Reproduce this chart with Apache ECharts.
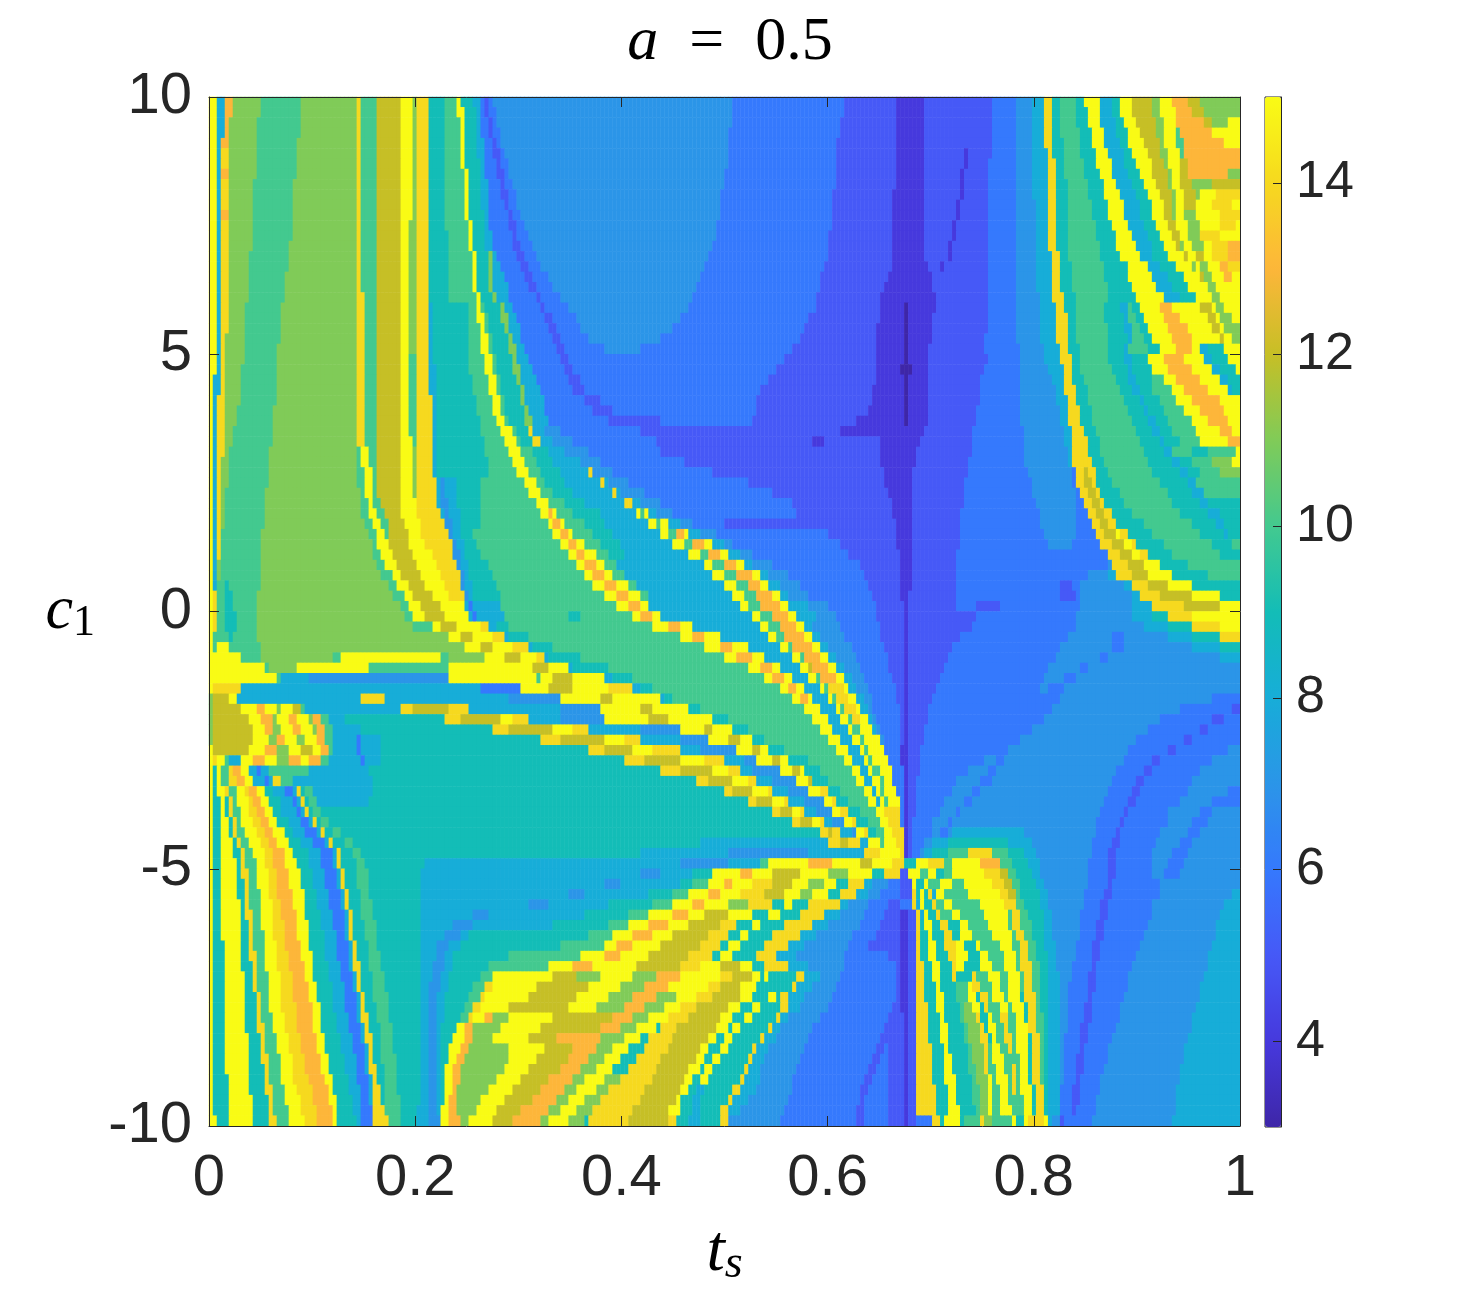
<!DOCTYPE html>
<html>
<head>
<meta charset="utf-8">
<title>a = 0.5</title>
<script src="https://cdn.jsdelivr.net/npm/echarts@6/dist/echarts.min.js"></script>
<style>
  html, body { margin: 0; padding: 0; background: #fff; }
  #main { width: 1461px; height: 1293px; }
</style>
</head>
<body>
<div id="main"></div>
<script>
// levels, top row (c1 = 10) first, left to right in t_s.
// each token: one hex digit for the level, then where that level stops along t_s (0-1031)
const levelRows = [
'f7 814 d22 b50 a93 b146 e153 a166 c193 f203 b206 e218 9234 a248 f253 9265 8270 6275 5279 6285 7523 6636 5688 4715 5783 6806 7825 8835 e842 9850 a866 9877 f890 8902 9910 f923 c942 b951 f965 d978 c990 b1031',
'f7 814 d22 b50 a92 b146 e153 a166 c193 f203 b206 e218 9234 a249 f254 9266 8271 6276 5281 6287 7523 6634 5688 4715 5783 6806 7825 8835 e843 9851 a867 9879 f892 8904 9912 f925 c944 b953 f966 d985 c995 b1031',
'f7 814 d21 b49 a91 b146 e153 a166 c193 f203 b206 e218 9235 a250 f254 9267 8272 6278 5283 6289 7522 6632 5687 4715 5783 6806 7825 8836 e843 9852 a868 9881 f893 8906 9915 f929 c946 b954 f967 d995 c1005 b1020 f1031',
'f7 814 d21 b49 a90 b146 e153 a166 c193 f203 b206 e218 9235 a251 f255 9267 8273 6280 5285 6291 7521 6630 5687 4715 5782 6806 7825 8836 e844 9853 a870 9883 f895 8908 9918 f932 c948 b955 f968 a972 d1005 f1031',
'f7 813 d21 b48 a89 b146 e153 a166 c193 f203 b206 e218 9235 a252 f256 9268 8274 6282 5287 6293 7520 6629 5686 4715 5782 6806 7825 8837 e844 9854 a871 9885 f897 8911 9921 f935 c950 b956 f969 a974 d1015 f1031',
'f7 813 e21 b47 a88 b146 e153 a166 c193 f203 b206 e218 9236 a252 f256 9269 8275 6285 5290 6295 7519 6628 5686 4715 5756 4760 5782 6806 7825 8838 e845 9855 a873 9887 f900 8914 9925 f939 c953 b958 f970 a976 d1031',
'f7 813 e20 b47 a87 b146 e153 a166 c193 f203 b206 e218 9236 a253 f257 9270 8276 6287 5292 6298 7518 6627 5686 4715 5755 4759 5781 6806 7825 8838 e846 9856 a875 9889 f902 8917 9928 f942 c955 b960 f971 c978 d1031',
'f7 813 d20 b46 a86 b146 e153 a166 c193 f203 b206 e218 9236 a254 f258 9271 8277 6289 5294 6301 7516 6627 5686 4715 5753 4757 5781 6806 7825 8839 e846 9857 a877 9892 f905 8920 9932 f945 c958 b962 f972 c980 d1018 b1031',
'f7 812 e20 b45 a85 b146 e153 a166 c193 f202 b206 e218 9236 a255 f259 9272 8278 6291 5296 6304 7514 6626 5686 4714 5751 4755 5781 6806 7825 8839 e847 9858 a879 9895 f909 8924 9936 f949 c960 b964 f973 c985 b1005 c1031',
'f7 812 e20 b45 a85 b146 e153 a166 c193 f202 b206 e219 9236 a255 f259 9272 8278 6293 5298 6307 7513 6625 5685 4714 5750 4754 5780 6806 7825 8840 e847 9858 a881 9897 f912 8927 9939 f952 c962 b966 f974 c987 b992 f1008 e1031',
'f7 812 e20 b44 a84 b146 e153 a166 c193 f202 b206 e219 9236 a256 f260 9273 8279 6296 5301 6309 7512 6624 5685 4714 5748 4752 5780 6806 7826 8840 e848 9859 a883 9899 f915 8930 9942 f955 c964 b967 f975 c988 f1005 e1025 f1031',
'f7 812 d20 b44 a83 b146 e153 a166 c192 f202 b206 e219 9236 a257 f261 9274 8280 6299 5304 6312 7510 6623 5685 4714 5747 4751 5780 6806 7826 8840 e848 9859 a885 9900 f917 8932 9944 f957 c965 b968 f976 b988 f1010 e1031',
'f6 812 e19 b43 a82 b146 e153 a166 c192 f201 b206 e219 9237 a258 f262 9275 8281 6301 5307 6316 7508 6622 5685 4714 5745 4749 5780 6806 7826 8841 e849 9860 a887 9902 f919 8934 9946 f959 c966 b969 f978 b990 f1012 e1028 f1031',
'f6 811 e19 b42 a82 b146 e153 a166 c192 f201 b206 e219 9238 a259 f263 9276 8283 6303 5309 6320 7506 6621 5684 4714 5743 4747 5780 6806 7826 8841 e849 9860 a889 9906 f923 8938 9951 f964 c970 b972 f981 b992 e1010 f1031',
'f6 811 e19 b42 a81 b146 e153 a166 c192 f201 b206 e219 9238 a260 f264 9277 8285 6305 5311 6324 7504 6620 5684 4714 5741 4745 5780 6806 7827 8841 e849 9860 a891 9909 f927 8942 9956 f969 c973 b976 f984 b994 f1004 e1020 d1031',
'f6 811 e19 b41 a80 b146 e153 a166 c192 f201 b206 e219 9239 a262 f266 9278 b282 8289 6308 5314 6328 7501 6618 5683 4716 5738 4742 5780 6806 7827 8842 e850 9861 a893 9913 f933 8945 9961 f976 c981 f987 c996 f1004 e1018 d1031',
'f6 811 e19 b40 a79 b147 e153 a166 c192 f200 b206 e220 9239 a263 f267 9279 b283 8292 6312 5318 6333 7497 6615 5682 4719 5733 4737 5780 6806 7827 8843 e851 9862 a895 9918 f938 8950 9968 f984 b987 f992 b998 f1010 d1020 e1031',
'f6 811 e18 b40 a77 b147 e153 a166 c192 f200 b206 e220 9240 a264 f268 9280 b284 8296 6317 5323 6339 7493 6612 5679 4722 5780 6806 7828 8843 e852 9864 a897 9921 f943 8958 9974 f992 c994 f997 b1002 f1016 d1024 f1031',
'f6 810 e18 b39 a76 b147 e153 a166 c191 f200 b206 e220 9241 a265 f269 9281 b285 8299 6321 5327 6345 7489 6610 5677 4725 5780 6806 7829 8844 e853 9865 a898 9925 f947 8965 9981 f998 c1001 b1006 f1031',
'f6 810 e18 b38 a74 b147 e154 a166 c191 f200 b206 e220 9241 a266 f271 9283 b288 8300 6326 5332 6351 7482 6608 5673 4726 5779 6806 7830 8845 e855 9866 a899 9929 f955 8972 9986 f1004 b1012 f1031',
'f6 810 e18 b37 a73 b147 e154 a166 c191 f200 b206 e220 8224 9258 a268 f273 a277 9290 b295 8302 6330 5336 6358 7478 6606 5670 4696 3699 4726 5778 6806 7831 8846 e857 9866 a895 9912 8918 a925 9933 f950 d962 f992 c1004 f1009 b1016 f1031',
'f6 810 e18 b37 a72 b147 e154 a166 c191 f200 b206 e220 8224 9258 a269 f275 a279 9293 b298 8306 6334 5342 6366 7470 6601 5670 4696 3699 4725 5778 6806 7831 8847 e858 9867 a897 9914 8920 a928 9937 f954 d970 f998 c1006 f1012 b1022 f1031',
'f6 810 e18 b36 a71 b147 e154 a166 c191 f200 b206 e220 8224 9258 a270 f277 a281 9296 b301 8310 6338 5346 6373 7462 6596 5669 4696 3699 4723 5778 6807 7832 8848 e859 9868 a899 9916 8922 a931 9941 f958 d978 f1004 c1010 f1017 b1031',
'f6 810 e17 b35 a70 b148 e154 a166 c191 f200 b206 e221 8225 9258 a272 f279 a283 9299 b304 8313 6342 5350 6381 7452 6591 5669 4696 3699 4722 5777 6808 7833 8849 e860 9869 a900 9918 8924 a934 9945 f962 d985 f1010 c1014 f1023 b1031',
'f6 810 e17 b35 a69 b148 e155 a166 c191 f200 b206 e221 8225 9258 a273 f280 a285 9301 b306 8317 6346 5354 6395 7432 6585 5669 4696 3699 4721 5777 6810 7834 8850 e861 9870 a900 9915 8921 a938 9950 f968 d985 f992 8998 91015 f1031',
'f6 810 e17 b34 a69 b148 e155 a166 c191 f199 a206 e221 8225 9258 a275 f282 a287 9303 b308 8320 6350 5360 6577 5668 4694 3700 4720 5778 6811 7835 8851 e862 9871 a901 9917 8923 9940 f954 d975 f997 81003 91020 f1031',
'f6 810 e17 b33 a68 b148 e155 a166 c191 f199 a206 e221 8226 9260 a277 f284 a289 9305 b310 8324 6355 5365 6568 5668 4692 3702 4720 5776 6811 7838 8854 e864 9873 a903 9919 8925 9943 f960 d982 f1004 81010 91027 f1031',
'f5 810 e16 b32 a67 b148 e155 a166 c191 f199 a206 e221 8226 9262 a279 f287 a291 9307 b312 8328 6360 5370 6560 5667 4694 3700 4720 5773 6811 7842 8856 e865 9875 a906 9921 8928 9945 a955 f967 d992 f1012 81020 91031',
'f5 810 e16 b31 a66 b148 e155 a166 c191 f200 a206 e221 8226 9264 a281 f289 a293 9310 b315 8332 6365 5376 6553 5664 4696 3699 4720 5772 6812 7846 8857 e867 9878 a910 9925 8932 9945 a962 f976 d1000 f1019 81024 91031',
'f5 89 e16 b30 a66 b149 e156 a167 c191 f200 a206 e222 8226 9266 a283 f291 a295 9312 b317 8335 6374 5390 6549 5662 4696 3699 4721 5770 6812 7848 8859 e869 9880 a915 9930 8935 9950 a968 f984 d1010 f1031',
'f5 89 e16 b29 a65 b149 e156 a167 c191 f200 a206 e222 8226 9268 a285 f293 a297 9314 b320 8337 6385 5405 6547 5660 4696 3699 4721 5768 6813 7850 8860 e871 9882 a920 9935 8941 9956 a975 f992 d1015 f1031',
'f5 89 e15 b27 a64 b149 e156 a167 c191 f200 a206 e222 8227 9270 a287 f295 a299 9317 b322 8339 6400 5450 6545 5648 4696 3699 4718 5766 6813 7851 8861 e873 9885 a925 9940 8946 9960 a982 f1000 d1020 f1031',
'f5 89 e15 b25 a63 b149 e156 a167 c191 f201 a206 e222 8227 9272 a293 f302 a306 9320 e324 8335 7352 6430 5632 4715 5765 6814 7854 8862 e875 9887 a928 9945 8950 9965 a988 f1010 d1025 f1031',
'f5 89 e14 b23 a62 b149 e157 a168 c191 f202 a206 e223 8228 9274 a296 f306 a310 9325 e330 8345 7365 6447 5605 4615 5670 4710 5764 6815 7857 8862 e878 9890 a932 9950 8955 9970 a992 f1018 d1031',
'f5 89 e14 b21 a61 b147 a152 f158 a168 c191 f203 b206 e223 8228 9276 a300 f311 a322 9338 8357 7378 6450 5672 4708 5762 6816 7859 8863 e881 9892 a935 9955 8962 a985 91000 a1027 f1031',
'f5 89 e13 b20 a60 b147 a153 f160 a168 c192 f204 b206 e224 8228 9278 a304 f316 a326 9344 8370 7391 6475 5673 4706 5760 6817 7861 8864 e883 9895 a940 9962 8970 9985 a1005 b1025 f1031',
'f5 88 e13 b19 a59 b148 a155 f162 a168 c192 f204 b207 e225 8229 9280 a309 f320 a331 9350 8378 e382 7405 6505 5675 4705 5758 6819 7864 6868 e874 c880 e886 9900 a945 9970 8978 9990 a1010 b1031',
'f4 88 e12 b18 a58 b149 a155 f163 a168 c192 f205 b207 e226 8230 7234 8246 9272 a314 f326 a336 9356 8391 e395 8401 7420 6540 5676 4704 5757 6822 7865 6868 e876 c882 e889 9905 a952 9978 8987 a1031',
'f4 88 e12 b17 a57 b150 a155 f163 a169 c192 f205 b208 e227 8231 7236 8248 9272 a320 f332 a344 9362 8402 e408 8412 7435 6565 5679 4704 5755 6825 7866 6872 e880 c886 e893 9910 a958 9985 8995 a1031',
'f4 88 e12 b16 a56 b152 a158 f165 a172 c193 f207 b208 e229 8232 7238 8249 9272 a326 f340 a356 9375 8415 e422 8430 7450 6582 5682 4704 5754 6828 7866 6875 e884 c891 e897 9917 a965 9992 81000 91031',
'f4 88 e11 b15 a55 b153 a160 f168 a175 c193 f208 b209 e232 8234 7240 8250 9272 a332 f338 d343 f348 a365 9390 8428 f432 a436 f440 8448 7464 6586 5685 4704 5753 6830 7866 6878 e886 c896 e902 9925 a972 91000 81010 91031',
'f4 88 e11 b14 a54 b155 a163 f171 a178 c195 f210 e234 8237 7242 8251 9270 a338 f344 d350 f356 a375 9397 8440 f447 a453 f460 8470 7484 6515 5688 4704 5752 6833 7866 6883 e890 c900 e909 9935 a982 91008 81015 91031',
'f4 87 e10 b13 a53 b158 a166 f174 a180 c198 f212 e238 7244 8252 9265 a344 f351 d358 f365 a385 9405 8452 f460 a468 d474 f480 8490 7507 6620 5689 4703 5751 6836 7866 6888 e896 c906 f912 e918 9945 a992 91015 81020 91031',
'f4 87 e10 b12 a53 b162 a169 f179 c200 f217 e242 7247 8254 9268 a351 f359 d368 f376 a392 9412 8465 f475 a485 d497 f505 8515 7525 6632 5689 4703 5750 6840 7862 6893 e902 c915 f922 e928 9955 a1002 91025 a1031',
'f4 87 e10 b12 a52 b165 a172 f184 c204 f222 e245 7250 8256 9270 a358 f368 d377 f386 a400 9415 8480 f490 a500 d512 f520 8530 7545 6641 5690 4703 5749 6898 e910 c925 f932 e938 9965 a1012 91031',
'f4 86 e9 b11 a51 b169 a177 f189 c208 f227 e248 7252 8258 9278 a366 f376 d386 f396 a408 8495 f505 a515 d527 f535 8545 7565 6650 5691 4702 5748 6900 7904 e920 c935 f950 9980 a1031',
'f4 86 e9 b10 a50 b172 a182 f193 c212 f232 e250 7254 8260 9285 a375 f385 d395 f405 a416 8505 f516 a528 d542 f550 8560 7580 6656 5691 4702 5748 6880 7900 8906 e922 c940 f962 91000 a1031',
'f4 86 e9 a15 920 a50 b178 a188 f198 c217 f236 e253 7257 8262 9288 a385 f396 d407 f418 a428 8515 f526 a538 d552 f560 8570 7590 6661 5692 4702 5748 6850 5864 6872 7915 8922 e938 c960 f985 91031',
'f4 e8 a15 922 a49 b185 a195 f203 c222 f240 e255 7259 8265 9290 a395 f407 d418 f430 a440 8525 f536 a548 d562 f570 8580 7600 6665 5692 4701 5747 6850 5866 6870 7925 8932 e950 c985 f1010 91031',
'f4 e8 a16 925 a49 b193 a200 f210 c230 f256 8261 6265 8290 a408 f419 d430 f441 8531 f541 a553 d572 f581 8599 7619 6667 5694 4701 5748 6769 5790 6870 7925 8945 e975 c1010 f1031',
'f3 e7 a16 928 a49 b196 a204 f216 c234 f258 8264 6268 8296 a360 9370 a423 f433 d442 f452 8543 f552 a562 d580 f588 8606 7626 6669 5694 4701 5769 6868 7925 8945 9960 e985 f1031',
'f3 e6 a14 928 a49 b205 a222 f232 c248 f272 e281 8286 9300 a445 f458 d471 f485 8552 f561 a570 d588 f596 8604 7630 6671 5695 4701 5762 6866 7935 8960 9985 e1010 f1031',
'f3 e5 a18 925 a48 b240 f250 c262 f285 e295 8300 9320 a470 f483 d497 f510 8560 f568 a577 d596 f604 8612 7637 6673 5695 4701 5752 6860 7905 6915 7960 8985 91010 e1031',
'f2 a8 f18 a50 b255 f270 c285 f305 e318 8323 9345 a495 f510 d525 f540 8570 f578 a585 d604 f612 8620 7642 6675 5696 4701 5745 6852 7904 6914 7985 81010 91031',
'f3 a5 f30 a50 b124 a130 f232 a240 b275 f295 c310 f328 e335 8340 9370 a515 f528 d542 f555 8582 f590 a596 d612 f620 8628 7648 6678 5696 4700 5740 6846 7890 6900 71010 81031',
'f55 a60 b88 f160 a240 f298 a300 f325 c340 f360 8365 9400 a540 f550 d562 f572 8592 f598 c605 d620 f628 8636 7652 6681 5696 4700 5735 6840 7870 6880 71031',
'f66 a71 8100 7240 f328 a330 f345 c365 f395 8402 9425 a555 f565 d575 f585 8600 f607 a613 d627 f634 8642 7656 6684 5696 4700 5731 6836 7855 6868 71031',
'f2 e30 8270 6310 f340 c365 f400 e425 8432 9445 a570 f578 d587 f595 8610 f616 a621 e634 f640 8648 7659 6686 5696 4700 5727 6833 7840 6856 71031',
'b4 c18 f28 8150 e175 8300 7350 f390 c405 f450 8456 9465 a583 f590 d598 f605 8618 f624 a629 e640 f646 8654 7662 6688 5696 4700 5724 6850 71005 61031',
'b4 c32 f46 d56 f66 b72 f84 c90 a96 8190 e205 c240 e258 8350 7392 f430 c445 f481 9490 a595 f610 8626 f632 a637 e646 f652 8660 7665 6690 5696 4700 5721 6842 7970 61025 51031',
'b4 c40 f52 d62 b68 f80 d88 f98 b104 d112 a118 8135 9234 e250 c290 f305 e318 8350 7395 f440 c460 f505 9520 a603 f618 8632 f638 a643 e652 f658 8664 7668 6691 5696 4700 5719 6835 7952 61005 51015 61031',
'b4 c42 f55 d64 b72 f84 d92 f102 b108 d116 a122 8150 9282 e300 c345 f365 e379 8430 7470 f495 c505 f524 9540 a612 f625 8640 f645 a650 f664 8668 7671 6692 5696 4700 5717 6825 7940 6990 5998 61031',
'b4 c42 f58 b66 d74 f88 b96 f108 d116 a124 8146 6150 8170 9333 e350 c395 f415 e430 8470 7500 f520 c530 f543 9555 a620 f632 8645 f651 a656 f670 8673 7675 6692 5696 4700 5715 6810 7928 6975 5984 61031',
'f3 95 c38 f55 d68 b80 f92 c102 f112 d118 a124 8148 6152 8170 9381 e395 c425 f445 e472 8490 7528 f545 c552 f560 9575 a628 f638 8650 f656 a660 f674 7677 6693 4700 5713 6800 7920 6958 5966 61020 71031',
'f4 e6 99 f14 a18 830 f44 d55 f68 b78 d90 f100 d110 a118 8150 6154 8172 9417 e435 c470 f495 e515 8535 7549 f565 c572 f580 9600 a635 f645 8655 f660 a665 f678 7680 6693 4700 5711 6775 7786 6795 7914 6945 5953 61002 71031',
'f4 98 f12 a18 e24 d30 f38 846 650 860 a100 8160 9453 e470 c505 f520 e530 8545 7572 f585 c590 f594 9610 a642 f652 8660 f665 a670 f682 6694 4700 5710 6760 7778 6788 7908 6936 5944 6990 71031',
'f4 98 f13 a21 e27 d34 f43 854 658 864 e70 a84 8165 9486 e500 c525 f540 e546 8565 7587 f598 c602 f605 9620 a648 f657 8664 f670 a674 f685 6695 4700 5709 6748 7772 6782 7903 6928 5936 6985 71031',
'f4 99 f14 917 e20 a26 f36 e41 d48 f57 965 877 683 887 e91 996 a102 8165 9515 e525 c545 f558 e562 8580 7600 f612 e618 9630 a654 f662 8668 f673 a677 f688 6695 4700 5708 6742 7765 6773 7899 6922 5930 6978 71018 61031',
'f5 910 f15 918 e22 a28 f39 e44 d52 f61 970 882 688 892 e96 9101 a108 8160 9538 e548 c565 f575 e578 8595 7614 f622 e628 9640 a660 f668 8672 f677 a680 f690 6695 4700 5707 6736 7757 6765 7895 6918 5926 6970 71005 61031',
'f5 910 f16 920 e23 a30 f41 e46 d54 f64 973 886 691 895 e99 9104 a111 9562 e572 c585 f593 e597 8608 7625 f632 e639 9650 a666 f674 8676 e692 6696 4700 5706 6730 7748 6752 7892 6914 5921 6958 7990 61005 71031',
'f5 910 f18 923 e27 a33 f44 e50 d59 f69 979 892 699 8102 e106 9113 a120 9585 e592 c605 f612 e616 8625 7636 f642 e648 9660 a671 f679 8680 e693 6696 4700 5705 6725 7740 6745 7889 6910 5917 6958 7985 6998 71031',
'f5 911 f20 925 e29 a36 f48 e54 d64 f74 984 897 6106 8110 e114 9124 a131 9611 e618 c625 e631 8642 7648 f654 e660 9668 a675 f683 e695 4700 5705 6722 7733 6738 7745 8816 7886 6906 5913 6952 7978 6990 71031',
'f5 911 f23 928 e32 a40 f52 e58 d69 f80 992 8104 6116 8120 e124 9135 a145 9490 8620 e632 c641 e650 8658 f672 a675 f689 e695 4700 5704 6716 7724 8740 9800 8822 7884 6903 5910 6948 7972 6985 71031',
'f5 912 f25 930 e35 a44 f55 e62 d74 f85 998 8110 6122 8126 e130 9143 a152 9430 8520 7600 8654 e670 f682 f692 e696 4700 5702 6710 7715 8725 9738 a760 e785 a800 9815 8826 7882 6900 5908 6945 7965 6980 71031',
'f5 912 f26 932 e36 a46 f57 e64 d76 f88 9101 8113 6125 8129 e133 9146 a155 9215 8470 7520 8550 a560 f600 d625 f650 c665 f685 e694 6697 9708 f720 e735 a745 f770 d790 a805 9820 8830 7881 6898 5906 6942 7960 6975 71031',
'f5 912 f28 933 e38 a48 f59 e66 d79 f91 9104 8116 6128 8132 e136 9148 a158 9212 8430 7450 8485 9505 f530 d545 f565 c590 f620 b640 f665 9675 e690 6693 5700 f712 a718 f728 9735 a745 f775 e790 c800 a808 9822 8833 7880 6900 5907 6945 7955 6970 71031',
'f5 912 f29 934 e39 a49 f60 e67 d80 f92 9105 8117 6129 8133 e137 9149 a159 9212 8395 7410 8470 9485 a500 f515 d525 f545 e565 c585 f600 b615 f628 9640 e655 8665 7680 6693 5702 f707 9710 f713 9716 f721 a733 f745 a755 f785 e795 c803 a810 9826 8836 7878 6898 5905 6950 71031',
'f5 912 f29 935 e40 a50 f61 e69 d82 f94 9107 8119 6131 8135 e139 9151 a161 9210 8360 7375 8440 9462 a478 f500 d512 f532 e555 c575 f592 b605 f618 9632 e648 8660 7672 6690 5703 e707 9710 f715 9719 e724 8728 f735 a760 f790 e798 c806 a813 9830 8838 7876 6895 5902 6952 71022 81031',
'f5 913 f30 936 e41 a51 f62 e70 d84 f95 9109 8121 6132 8136 e140 9152 a163 9210 8320 7340 8400 9445 a465 f485 d495 f520 b540 e562 9575 f585 9600 e630 8640 7660 6678 5692 6704 e708 8712 f717 9722 e728 a735 f742 a770 f795 e802 e808 a816 9833 8840 7875 6893 5900 6945 71016 81031',
'f5 913 f30 937 e42 a52 f63 e72 d86 f96 9110 8122 6134 8138 e142 9153 a164 9210 8262 7280 8375 9420 a440 f465 d480 f495 c520 f545 9560 f570 9590 e615 8630 7655 6675 5692 4699 5706 e710 8716 f720 9726 e732 a745 f752 a775 f798 a803 e810 a820 9834 8842 7873 6891 5898 6942 71012 81031',
'f5 913 f31 938 e43 a53 f64 e74 d87 f98 9112 8124 6135 8139 e144 9155 a166 9210 8245 7262 8345 9398 a420 f440 d458 f480 c510 e528 9542 f552 9575 e602 8618 7650 6670 5692 4699 5706 e710 9716 f722 9730 e738 9750 f758 a780 f800 a805 e813 a822 9835 8843 7872 6889 5896 6938 71009 81031',
'f5 913 f31 939 e44 a54 f65 e75 d89 f99 9114 8126 6137 8141 e145 9156 a168 9210 8235 7250 8260 9378 a405 f425 d442 f465 c500 e518 9530 f540 9565 e590 8608 7645 6668 5692 4699 5706 e711 9718 f724 9734 e742 9752 f762 a784 f802 a808 e816 a825 9836 8844 7870 6887 5894 6935 71006 81031',
'f5 914 f32 940 e45 a55 f66 e77 d91 f101 9115 8127 6138 8142 e147 9158 a169 9210 8228 7240 8250 9350 a395 f408 d425 f450 c490 e510 9520 f530 9555 e578 8597 7640 6660 5692 4699 5706 e712 9720 f726 9737 e746 f756 9766 f773 a790 f804 a810 e819 a827 9837 8846 7868 6885 5892 6930 71004 81031',
'f5 914 f33 941 e46 a56 f67 e78 d93 f102 9117 8129 6140 8144 e149 9159 a171 9210 8226 7236 8244 9300 a371 f395 d410 f438 c480 e502 9512 f522 9548 e568 8588 7635 6680 5692 4699 5706 e713 9721 f728 9741 e748 f758 9770 f778 a795 f806 a811 e820 a829 9838 8847 7866 6883 5890 6927 71001 81031',
'f5 914 f33 942 e47 a57 f68 e80 d94 f103 9119 8131 6141 8145 e150 9160 a173 9210 8224 7234 8242 9278 a340 f365 d385 f428 c470 e492 f510 c530 f545 9555 e580 8600 7634 6687 5692 4699 5707 e714 9722 f730 9743 e749 f757 9773 f782 a797 f808 a812 e822 a830 9839 8848 7864 6882 5889 6924 7998 81031',
'f5 914 f34 944 e48 a58 f70 e82 d96 f105 9120 8132 6143 8147 e152 9162 a174 9210 8222 7232 8240 9272 a284 f344 c368 b391 f424 b448 d471 f511 e522 c545 f552 9555 f560 9589 e596 8610 7633 6687 5692 4699 5707 e715 9724 f732 9745 e749 9762 e769 a778 f790 a798 f810 a814 e824 a831 9840 8850 7862 6880 5887 6921 7995 81031',
'f5 915 f34 945 e49 a59 f71 e83 d98 f106 9122 8134 6144 8148 e153 9163 a176 9210 8221 7230 8238 9264 a276 e283 f328 c378 f412 b436 d460 f499 e510 c533 f549 9582 e589 8604 7628 6687 5693 4699 5707 e716 9726 f733 9746 a758 f765 e772 a782 f793 a799 f811 a815 e825 a832 9840 8850 7861 6879 5886 6918 7992 81031',
'f5 915 f35 946 e50 a60 f72 e85 d100 f108 9124 8136 6146 8150 e155 9165 a178 9210 8221 7229 8236 9260 a270 e276 f318 c368 f400 b425 d448 b466 f486 e503 c530 f544 9560 f566 9570 e578 8594 7622 6687 5693 4699 5707 e717 9727 f734 9748 a760 f767 9773 e778 a785 f796 a801 f813 9816 e826 a833 9841 8850 7860 6878 5884 6915 7990 81031',
'f5 915 f36 947 e51 a61 f73 e86 d102 f110 9125 8137 6147 8151 e156 9166 a179 9210 8220 7228 8235 9256 a264 e270 f300 c358 f388 b414 d437 b454 f472 e488 c520 f532 9545 f552 9572 e580 8590 7618 6684 5693 4699 5707 e718 9728 f736 9750 a755 b765 f770 9775 e781 a790 f798 a803 f815 9818 e827 a833 9841 8850 7860 6877 5883 6912 7988 81031',
'f5 916 f36 948 e53 a63 f75 e88 d104 f111 9127 8139 6149 8153 e158 9168 a180 9210 8220 7227 8234 9250 a258 e264 f275 d282 b300 f345 c375 c402 d425 b441 f460 e480 c512 f525 9535 f542 9566 e572 8580 7612 6680 5694 4699 5707 e719 9730 f737 9752 a756 b767 e773 9778 f783 a792 e800 a806 f817 9820 e828 a834 9841 8850 7859 6876 5882 6910 7985 81031',
'f5 916 f37 949 e54 a64 f76 e89 d105 f113 9129 8140 6150 8155 e160 9170 a182 9210 8220 7226 8233 9246 f256 d264 b290 f333 c362 c391 d412 b428 f446 9450 e468 c506 f518 9523 f530 9558 e564 8572 7604 6676 5680 6681 5695 4700 5707 e720 9731 f738 9754 a758 b770 e776 9780 f786 a795 e801 a807 f818 9821 e829 a834 9841 8850 7858 6873 5880 6906 7982 81031',
'f5 916 f38 950 e55 a66 f78 e91 d107 f115 9131 8142 6152 8157 e162 9171 a183 9210 8219 7226 8233 9244 f254 d262 b285 f320 c348 d390 b415 f433 9440 e462 c498 f509 9515 f524 9550 e554 8566 7600 6672 5679 6681 5696 4700 5708 e721 9733 f739 9756 a760 b772 e778 9782 f789 a797 e803 a808 f819 9822 e830 a834 9841 8850 7857 6872 5879 6903 7980 81031',
'f5 917 f39 952 e57 a68 f80 e93 d109 f116 9133 8144 6154 8158 e163 9172 a184 9210 8219 7226 8232 9240 f250 d258 b300 f334 c364 d388 b404 f421 9434 e458 c491 f501 9511 f520 9545 e549 8560 7596 6667 5674 6681 5696 4700 5708 e722 9734 f741 9758 a762 b775 e779 a783 f792 a800 e804 a809 f820 9823 e831 a835 9841 8850 7857 6870 5877 6900 7977 81031',
'f5 917 f39 953 e58 a70 f82 e95 d111 f118 9135 8146 6156 8160 e165 9173 a186 9210 8219 7226 8232 9238 f247 d254 b301 f327 c359 d380 b395 f413 9426 e452 c486 f497 9503 f512 9540 e545 8557 7592 6664 5671 6681 5696 4700 5708 e723 9735 f743 9759 a764 b776 e780 a785 f794 a802 e805 a810 f820 9823 e832 a835 9841 8850 7856 6869 5875 6898 7975 81031',
'f5 917 f40 954 e60 a71 f83 e97 d113 f120 9136 8147 6157 8161 e167 9174 a187 9210 8218 7226 8232 9237 f245 d252 b294 f320 c350 d372 b386 f405 9420 e448 c481 f490 9497 f505 9535 e540 8553 7588 6660 5667 6681 5696 4700 5708 e724 9736 f745 9760 a766 b777 e781 a787 f796 a803 e806 a811 f821 9824 e832 a835 9841 8850 7855 6867 5874 6895 7973 81031',
'f5 918 f41 956 e61 a73 f85 e99 d116 f122 9138 8148 6159 8162 e169 9175 a188 9210 8218 7226 8232 9236 f243 d250 b287 f313 c341 d364 b377 f397 b412 e442 c476 f484 9492 f499 9530 e535 8550 7585 6656 5663 6681 5696 4700 5708 e725 9737 f746 9762 a768 b778 f782 a788 f798 a804 e806 a812 f821 9825 e833 a836 9841 8850 7854 6866 5873 6892 7970 81031',
'f5 918 f41 957 e62 a75 f87 e102 d118 f124 9140 8150 6160 8163 e171 9176 a189 9210 8218 7226 8231 9235 f242 d249 b281 f303 c332 d354 b368 f387 b400 e436 c471 f478 9488 8495 9525 e530 8546 7582 6653 5660 6681 5696 4700 5708 e726 9738 f748 9763 a770 b779 f783 a790 f800 a805 e806 a813 f822 9826 e834 a836 9841 8850 7853 6865 5871 6890 7968 81031',
'f5 918 f42 958 e64 a76 f90 e104 d120 f126 9142 8151 6161 8164 e173 9177 a190 9210 8218 7226 8231 9234 f241 d248 b273 f295 c322 d346 b359 f377 b392 e430 c466 f473 9485 8493 9520 e524 8540 7578 6650 5657 6681 5696 4700 5708 e727 9739 f749 9765 a771 b780 f784 a792 f801 a806 e807 a814 f822 9827 e834 a836 9841 8850 7852 6864 5870 6888 7967 81031',
'f5 919 f43 960 e65 a78 f92 e106 d122 f127 9144 8152 6163 8165 e175 9177 a191 9209 8218 7226 8231 9233 f240 d249 b266 f288 c312 d338 b350 f369 b384 e425 c461 f470 9482 8492 9510 e520 8530 7574 6647 5654 6681 5696 4700 5708 e728 9740 f750 9767 a772 b781 f785 a793 f802 a806 e807 a815 f823 9827 e835 a836 9841 8850 7851 6862 5869 6886 7966 81031',
'f6 919 f43 961 e66 a79 f94 e108 d124 f129 9146 8153 6164 8165 e178 a191 9208 8218 7231 f238 d250 b261 f284 c304 d331 b341 f361 b375 9381 e421 c458 e469 9478 8490 9511 e520 7572 6647 5654 6680 5696 4700 5708 6724 e730 9737 f750 9755 a770 e774 b784 a803 f807 9815 f821 e835 f838 8845 7850 5854 6884 7965 81031'
];

const colorbarColors = ['#3e26a8', '#4639dd', '#4659f7', '#3579fd', '#2b95e8', '#17add8', '#13bdb7', '#43c98f', '#80cb58', '#c6bf26', '#fdb63a', '#f6d91f', '#f9fb15'];
const colorbarTicks = [4, 6, 8, 10, 12, 14];
const tSteps = 258;        // heatmap columns along t_s
const tSpan = 1031;        // unit used by the stop numbers in levelRows

const ink = '#262626';
const tickFont = 'Liberation Sans';
const mathFont = 'Liberation Serif';

function parseRow(text) {
  return text.split(' ').map(tok => ({ level: parseInt(tok[0], 16), stop: parseInt(tok.slice(1), 10) }));
}

const cells = [];
levelRows.forEach((text, r) => {
  const runs = parseRow(text);
  let k = 0;
  for (let c = 0; c < tSteps; c++) {
    const at = (c + 0.5) * tSpan / tSteps;
    while (k < runs.length - 1 && runs[k].stop < at) k++;
    cells.push([c, r, runs[k].level]);
  }
});

const chart = echarts.init(document.getElementById('main'), null, { renderer: 'canvas' });

const insideTick = { show: true, inside: true, length: 10, lineStyle: { color: ink, width: 1 } };
const frame = { show: true, onZero: false, lineStyle: { color: ink, width: 1 } };

chart.setOption({
  animation: false,
  backgroundColor: '#fff',
  title: {
    text: '{i|a}{n|  =  0.5}',
    left: 725,
    top: 7,
    textAlign: 'center',
    textStyle: {
      fontWeight: 'normal',
      rich: {
        i: { fontFamily: mathFont, fontStyle: 'italic', fontWeight: 'normal', fontSize: 62, color: '#000' },
        n: { fontFamily: mathFont, fontWeight: 'normal', fontSize: 62, color: '#000' }
      }
    }
  },
  grid: [
    { left: 209, top: 97, width: 1031, height: 1030 },
    { left: 1265, top: 97, width: 16, height: 1030, show: true, borderColor: ink, borderWidth: 1, backgroundColor: 'transparent' }
  ],
  xAxis: [
    { type: 'category', gridIndex: 0, show: false, data: Array.from({ length: tSteps }, (_, i) => i) },
    {
      type: 'value', gridIndex: 0, position: 'bottom', min: 0, max: 1, interval: 0.2, z: 10,
      axisLine: frame, axisTick: insideTick, splitLine: { show: false },
      axisLabel: { fontFamily: tickFont, fontSize: 58, color: ink, margin: 24 },
      name: '{i|t}{s|s}', nameLocation: 'middle', nameGap: 92,
      nameTextStyle: { rich: {
        i: { fontFamily: mathFont, fontStyle: 'italic', fontSize: 66, color: '#000' },
        s: { fontFamily: mathFont, fontStyle: 'italic', fontSize: 46, color: '#000', padding: [24, 0, 0, 0] }
      } }
    },
    {
      type: 'value', gridIndex: 0, position: 'top', min: 0, max: 1, interval: 0.2, z: 10,
      axisLine: frame, axisTick: insideTick, axisLabel: { show: false }, splitLine: { show: false }
    },
    { type: 'value', gridIndex: 1, min: 0, max: 1, show: false }
  ],
  yAxis: [
    { type: 'category', gridIndex: 0, show: false, inverse: true, data: levelRows.map((_, i) => i) },
    {
      type: 'value', gridIndex: 0, position: 'left', min: -10, max: 10, interval: 5, z: 10,
      axisLine: frame, axisTick: insideTick, splitLine: { show: false },
      axisLabel: { fontFamily: tickFont, fontSize: 58, color: ink, margin: 17, padding: [8, 0, 0, 0] },
      name: '{i|c}{s|1}', nameLocation: 'middle', nameGap: 114, nameRotate: 0,
      nameTextStyle: { rich: {
        i: { fontFamily: mathFont, fontStyle: 'italic', fontSize: 62, color: '#000' },
        s: { fontFamily: mathFont, fontSize: 44, color: '#000', padding: [24, 0, 0, 0] }
      } }
    },
    {
      type: 'value', gridIndex: 0, position: 'right', min: -10, max: 10, interval: 5, z: 10,
      axisLine: frame, axisTick: insideTick, axisLabel: { show: false }, splitLine: { show: false }
    },
    {
      type: 'value', gridIndex: 1, position: 'right', min: 3, max: 15, z: 10,
      axisLine: frame,
      axisTick: { show: true, inside: true, length: 8, lineStyle: { color: ink, width: 1 }, customValues: colorbarTicks },
      splitLine: { show: false },
      axisLabel: { fontFamily: tickFont, fontSize: 52, color: ink, margin: 15, padding: [6, 0, 0, 0], customValues: colorbarTicks }
    }
  ],
  visualMap: {
    type: 'continuous',
    seriesIndex: 0,
    min: 3,
    max: 15,
    left: 1265,
    top: 97,
    padding: 0,
    itemWidth: 16,
    itemHeight: 1030,
    calculable: false,
    text: null,
    inRange: { color: colorbarColors }
  },
  series: [{
    type: 'heatmap',
    xAxisIndex: 0,
    yAxisIndex: 0,
    data: cells,
    progressive: 0,
    silent: true,
    emphasis: { disabled: true },
    itemStyle: { borderWidth: 0 }
  }]
});
</script>
</body>
</html>
